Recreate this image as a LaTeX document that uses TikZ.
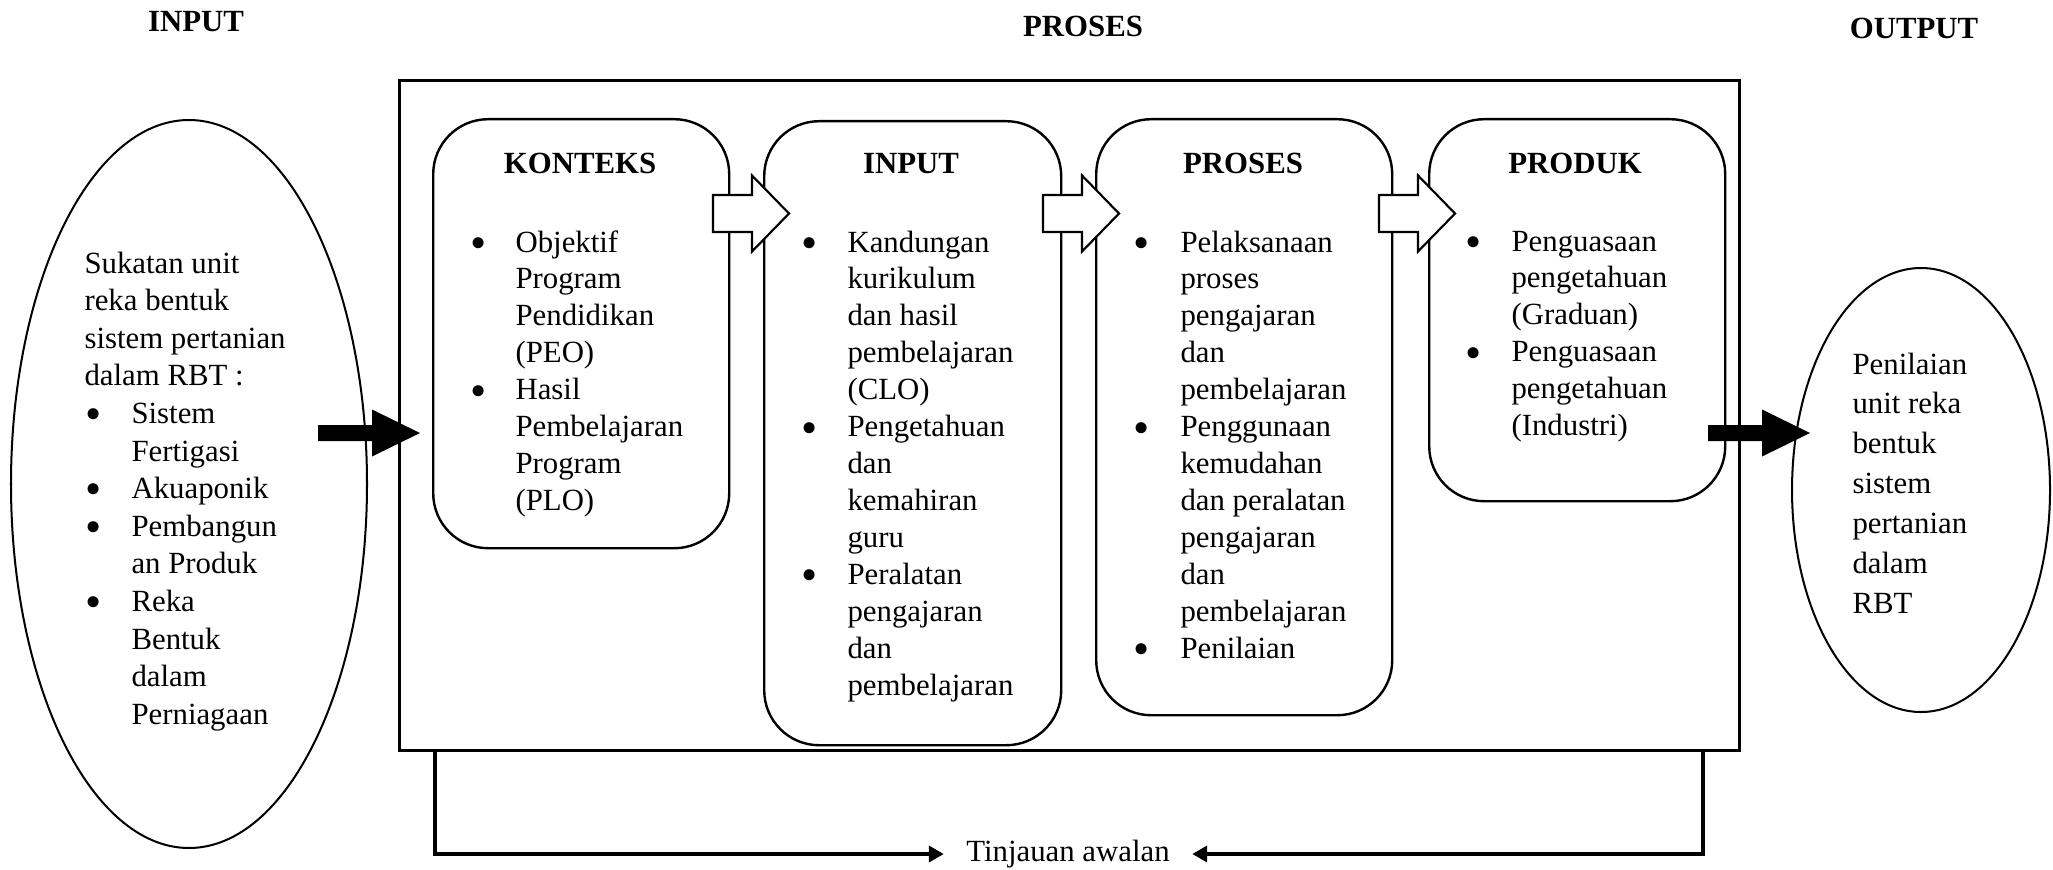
\documentclass[tikz,border=0pt]{standalone}
\usepackage{fontspec}
\setmainfont{Liberation Serif}
\usetikzlibrary{shapes.geometric,arrows.meta}
\newdimen\px \px=0.3733pt
\newcommand{\bul}{\smash{\raisebox{-0.2em}{\scalebox{1.5}{\textbullet}}}}
\newcommand{\blockarrow}[7][]{\path[#1] (#2,#5-#6) -- (#3,#5-#6) -- (#3,#5-#7) -- (#4,#5) -- (#3,#5+#7) -- (#3,#5+#6) -- (#2,#5+#6) -- cycle;}
\tikzset{
  txt/.style={inner sep=0pt, font=\fontsize{11.5pt}{13.8pt}\selectfont},
  ttl/.style={inner sep=0pt, anchor=base, font=\fontsize{11.5pt}{13.8pt}\selectfont\bfseries},
  rbox/.style={draw, line width=0.9pt, rounded corners=20.5pt, anchor=north west, inner sep=0pt},
  oval/.style={draw, ellipse, line width=0.75pt, inner sep=0pt},
  fb/.style={line width=1.5pt, -{Triangle[length=15*0.3733pt, width=16*0.3733pt]}},
  hollow/.style={draw, fill=white, line width=0.8pt},
  solid/.style={fill=black}
}
\begin{document}
\begin{tikzpicture}[x=0.3733pt,y=-0.3733pt]
\useasboundingbox (0,0) rectangle (2053,869);

% headings
\node[ttl] (hin) at (196,32) {INPUT};
\node[ttl] (hpr) at (1083,37) {PROSES};
\node[ttl] (hout) at (1914,39) {OUTPUT};

% outer process frame
\node[draw, line width=1.1pt, anchor=north west, inner sep=0pt,
  minimum width={1340*0.3733pt}, minimum height={670*0.3733pt}] (outer) at (398,79) {};

% ellipses
\node[oval, minimum width={356*0.3733pt}, minimum height={728*0.3733pt}] (inell) at (189,484) {};
\node[oval, minimum width={258*0.3733pt}, minimum height={444*0.3733pt}] (outell) at (1921,490) {};

% rounded boxes
\node[rbox, minimum width={296*0.3733pt}, minimum height={429*0.3733pt}] (konteks) at (432,118) {};
\node[rbox, minimum width={297*0.3733pt}, minimum height={624*0.3733pt}] (input) at (763,120) {};
\node[rbox, minimum width={296*0.3733pt}, minimum height={596*0.3733pt}] (proses) at (1095,118) {};
\node[rbox, minimum width={296*0.3733pt}, minimum height={382*0.3733pt}] (produk) at (1428,118) {};

% box titles
\node[ttl] (tk) at (580,174) {KONTEKS};
\node[ttl] (ti) at (911,174) {INPUT};
\node[ttl] (tp) at (1243,174) {PROSES};
\node[ttl] (tpr) at (1575,174) {PRODUK};

% left ellipse text
\node[txt, anchor=base west, font=\fontsize{11.5pt}{14.04pt}\selectfont] (intext) at (84,273) {\begin{tabular}[t]{@{}p{47\px}@{}l@{}}
\multicolumn{2}{@{}l@{}}{Sukatan unit}\\
\multicolumn{2}{@{}l@{}}{reka bentuk}\\
\multicolumn{2}{@{}l@{}}{sistem pertanian}\\
\multicolumn{2}{@{}l@{}}{dalam RBT :}\\
\hspace{1\px}\bul & Sistem\\
 & Fertigasi\\
\hspace{1\px}\bul & Akuaponik\\
\hspace{1\px}\bul & Pembangun\\
 & an Produk\\
\hspace{1\px}\bul & Reka\\
 & Bentuk\\
 & dalam\\
 & Perniagaan
\end{tabular}};

% box lists
\node[txt, anchor=base west] (klist) at (470,252) {\begin{tabular}[t]{@{}p{45\px}@{}l@{}}
\bul & Objektif\\
 & Program\\
 & Pendidikan\\
 & (PEO)\\
\bul & Hasil\\
 & Pembelajaran\\
 & Program\\
 & (PLO)
\end{tabular}};

\node[txt, anchor=base west] (ilist) at (801,252) {\begin{tabular}[t]{@{}p{46\px}@{}l@{}}
\bul & Kandungan\\
 & kurikulum\\
 & dan hasil\\
 & pembelajaran\\
 & (CLO)\\
\bul & Pengetahuan\\
 & dan\\
 & kemahiran\\
 & guru\\
\bul & Peralatan\\
 & pengajaran\\
 & dan\\
 & pembelajaran
\end{tabular}};

\node[txt, anchor=base west] (plist) at (1133,252) {\begin{tabular}[t]{@{}p{47\px}@{}l@{}}
\bul & Pelaksanaan\\
 & proses\\
 & pengajaran\\
 & dan\\
 & pembelajaran\\
\bul & Penggunaan\\
 & kemudahan\\
 & dan peralatan\\
 & pengajaran\\
 & dan\\
 & pembelajaran\\
\bul & Penilaian
\end{tabular}};

\node[txt, anchor=base west] (prlist) at (1465,251) {\begin{tabular}[t]{@{}p{46\px}@{}l@{}}
\bul & Penguasaan\\
 & pengetahuan\\
 & (Graduan)\\
\bul & Penguasaan\\
 & pengetahuan\\
 & (Industri)
\end{tabular}};

% right ellipse text
\node[txt, anchor=base west, font=\fontsize{11.5pt}{14.93pt}\selectfont] (outtext) at (1852,374) {\begin{tabular}[t]{@{}l@{}}
Penilaian\\ unit reka\\ bentuk\\ sistem\\ pertanian\\ dalam\\ RBT
\end{tabular}};

% hollow block arrows between the boxes
\blockarrow[hollow]{713}{752}{789}{213.5}{18.5}{38}
\blockarrow[hollow]{1043}{1082}{1119}{213.5}{18.5}{38}
\blockarrow[hollow]{1379}{1418}{1455}{213.5}{18.5}{38}

% solid block arrows in and out
\blockarrow[solid]{318}{372}{420}{433}{8}{23.5}
\blockarrow[solid]{1708}{1762}{1810}{433}{8}{23.5}

% feedback
\node[txt, inner xsep=22\px] (tinj) at (1068,854) {Tinjauan awalan};
\coordinate (fbL) at (435,749);
\coordinate (fbR) at (1703,749);
\draw[fb] (fbL) |- (tinj.west);
\draw[fb] (fbR) |- (tinj.east);
\end{tikzpicture}
\end{document}
